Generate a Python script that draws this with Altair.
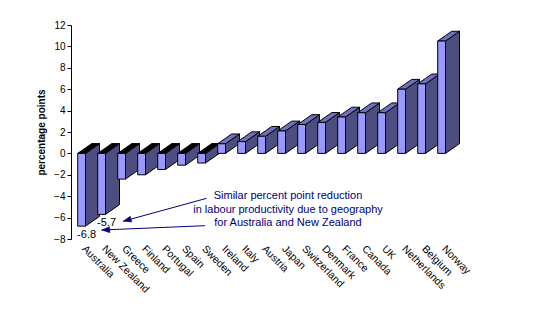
import altair as alt
import pandas as pd
import math

# ---- data ----
countries = ["Australia", "New Zealand", "Greece", "Finland", "Portugal", "Spain",
             "Sweden", "Ireland", "Italy", "Austria", "Japan", "Switzerland",
             "Denmark", "France", "Canada", "UK", "Netherlands", "Belgium", "Norway"]
values = [-6.8, -5.7, -2.4, -2.0, -1.5, -1.1, -0.9, 0.9, 1.1, 1.6, 2.1, 2.7,
          2.9, 3.4, 3.8, 3.8, 6.0, 6.5, 10.5]
labelled = ["Australia", "New Zealand"]
y_ticks = [-8, -6, -4, -2, 0, 2, 4, 6, 8, 10, 12]
note_lines = ["Similar percent point reduction",
              "in labour productivity due to geography",
              "for Australia and New Zealand"]
note_x = 10.85
note_y = [-3.98, -5.32, -6.48]
# arrows: start (x, y) -> tip (x, y) in data units
arrow_x = [6.785, 6.7]
arrow_y = [-4.196, -6.757]
arrow_tx = [2.615, 1.535]
arrow_ty = [-6.336, -7.159]

# ---- geometry / style ----
W, H = 400, 214
X_DOM = [0, 20]
Y_DOM = [-8, 12]
px_x = W / (X_DOM[1] - X_DOM[0])
px_y = H / (Y_DOM[1] - Y_DOM[0])
F0, FW = 0.335, 0.39          # front face offset & width (category units)
DX = 0.7                      # depth along x (category units)
DY = 9.8 / px_y               # depth along y (value units)
FRONT, SIDE, TOP = "#9999FF", "#4D4D80", "#7070C0"
NAVY = "#000080"
FONT = "Liberation Sans"

rows_front, rows_side, rows_top = [], [], []
for i, (c, v) in enumerate(zip(countries, values)):
    lo, hi = min(0, v), max(0, v)
    x0 = i + F0
    xr = x0 + FW
    rows_front.append(dict(country=c, x=x0, x2=xr, y=0, y2=v))
    rows_side.append(dict(country=c, x=xr, y=lo, y2=hi))
    rows_side.append(dict(country=c, x=xr + DX, y=lo + DY, y2=hi + DY))
    t = hi
    col = "pos" if v > 0 else "neg"
    rows_top += [
        dict(country=c, x=x0, y=t, y2=t, k=col),
        dict(country=c, x=x0 + FW, y=t, y2=t + DY * FW / DX, k=col),
        dict(country=c, x=x0 + DX, y=t + DY * (DX - FW) / DX, y2=t + DY, k=col),
        dict(country=c, x=x0 + FW + DX, y=t + DY, y2=t + DY, k=col),
    ]

df_front = pd.DataFrame(rows_front)
df_side = pd.DataFrame(rows_side)
df_top = pd.DataFrame(rows_top)

xs = alt.Scale(domain=X_DOM, nice=False, zero=False)
ys = alt.Scale(domain=Y_DOM, nice=False, zero=False)
y_axis = alt.Axis(title="percentage points", values=y_ticks, grid=False,
                  tickSize=4, tickColor="black", domainColor="black",
                  labelColor="black", labelFontSize=10, labelFont=FONT,
                  labelPadding=2, titleFont=FONT, titleFontSize=10,
                  titleFontWeight="bold", titleColor="black", titlePadding=7)


def X(f):
    return alt.X(f, scale=xs, axis=None)


def Y(f):
    return alt.Y(f, scale=ys, axis=y_axis)


sides = alt.Chart(df_side).mark_area(fill=SIDE, stroke="black", strokeWidth=1,
                                     interpolate="linear").encode(
    x=X("x:Q"), y=Y("y:Q"), y2="y2:Q", detail="country:N",
)

tops = alt.Chart(df_top).mark_area(stroke="black", strokeWidth=1,
                                   interpolate="linear").encode(
    x=X("x:Q"), y=Y("y:Q"), y2="y2:Q", detail="country:N",
    fill=alt.Fill("k:N", scale=alt.Scale(domain=["pos", "neg"], range=[TOP, "#000000"]),
                  legend=None),
)

fronts = alt.Chart(df_front).mark_rect(fill=FRONT, stroke="black", strokeWidth=1).encode(
    x=X("x:Q"), x2="x2:Q", y=Y("y:Q"), y2="y2:Q",
)

df_lab = pd.DataFrame(dict(country=countries,
                           x=[i + 1.05 for i in range(len(countries))],
                           y=[Y_DOM[0]] * len(countries)))
country_labels = alt.Chart(df_lab).mark_text(
    angle=45, align="left", baseline="top", dy=7, font=FONT, fontSize=10.5,
    color="black").encode(
    x=X("x:Q"), y=Y("y:Q"), text="country:N",
)

df_dl = pd.DataFrame([dict(x=countries.index(c) + 0.78, y=values[countries.index(c)],
                           t=f"{values[countries.index(c)]:.1f}") for c in labelled])
data_labels = alt.Chart(df_dl).mark_text(
    align="center", baseline="middle", dy=9, font=FONT, fontSize=11,
    color="black").encode(
    x=X("x:Q"), y=Y("y:Q"), text="t:N",
)

angles = []
for sx, sy, tx, ty in zip(arrow_x, arrow_y, arrow_tx, arrow_ty):
    dxp = (tx - sx) * px_x
    dyp = -(ty - sy) * px_y
    angles.append(math.degrees(math.atan2(dxp, -dyp)) % 360)
df_arr = pd.DataFrame(dict(x=arrow_x, y=arrow_y, tx=arrow_tx, ty=arrow_ty, a=angles))

arrows = alt.Chart(df_arr).mark_rule(color=NAVY, strokeWidth=1).encode(
    x=X("x:Q"), y=Y("y:Q"), x2="tx:Q", y2="ty:Q",
)

heads = alt.Chart(df_arr).mark_point(
    shape="M0,0 L0.75,2 L-0.75,2 Z", filled=True, fill=NAVY, stroke=NAVY,
    strokeWidth=0.5, opacity=1, size=64).encode(
    x=X("tx:Q"), y=Y("ty:Q"),
    angle=alt.Angle("a:Q", scale=None),
)

df_note = pd.DataFrame(dict(t=note_lines, x=[note_x] * 3, y=note_y))
note = alt.Chart(df_note).mark_text(
    align="center", baseline="middle", font=FONT, fontSize=11, color=NAVY).encode(
    x=X("x:Q"), y=Y("y:Q"), text="t:N",
)

chart = alt.layer(sides, tops, fronts, country_labels, data_labels, arrows, heads, note).properties(
    width=W, height=H,
    padding={"left": 71, "top": 25, "right": 537 - 71 - W, "bottom": 330 - 25 - H},
    autosize=alt.AutoSizeParams(type="none"),
    background="white",
).configure_view(stroke=None)

chart.save("out.html", embed_options={"renderer": "svg", "actions": False})
